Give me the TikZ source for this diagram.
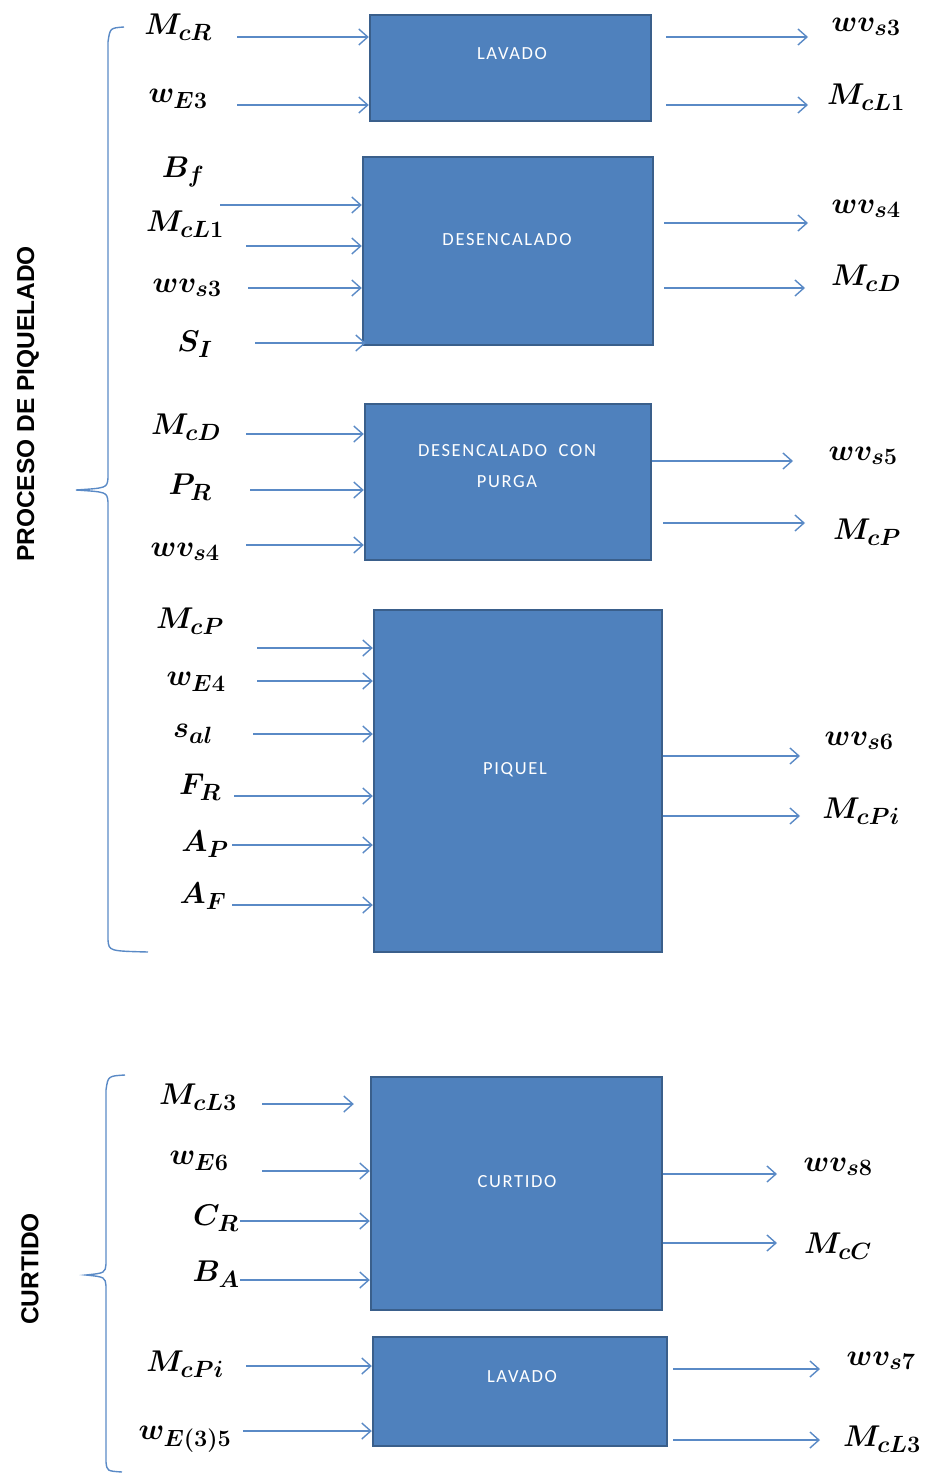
\RequirePackage{fix-cm}
\documentclass[tikz,border=0pt]{standalone}
\usepackage{fontspec}
\usetikzlibrary{arrows.meta}
\newfontfamily\boxfont[LetterSpace=9]{Carlito}
\newfontfamily\sidefont{Liberation Sans}
\DeclareMathSizes{30}{30}{23.5}{18}
\definecolor{boxfill}{HTML}{4F81BD}
\definecolor{boxline}{HTML}{3A5F8B}
\definecolor{flow}{HTML}{5A8AC6}
\tikzset{
  procbox/.style={draw=boxline, fill=boxfill, line width=2.4pt, inner sep=0pt},
  boxtext/.style={text=white, font=\boxfont\fontsize{18.5}{31}\selectfont, align=center, inner sep=0pt},
  var/.style={font=\fontsize{30}{34}\selectfont\boldmath, inner sep=0pt},
  flowarrow/.style={draw=flow, line width=1.4pt, -{Straight Barb[length=9pt, width=16pt, line width=1.4pt]}},
  bracket/.style={draw=flow, line width=1.4pt},
  sidetext/.style={font=\sidefont\bfseries\fontsize{24.5}{28}\selectfont, rotate=90, inner sep=0pt}
}
\begin{document}
\begin{tikzpicture}[x=1pt, y=-1pt]
\useasboundingbox (0,0) rectangle (930,1474);

% ---------- process blocks ----------
\node[procbox, minimum width=281, minimum height=106] (lav1) at (510.5,68) {};
\node[boxtext] (lav1t) at (512,54) {LAVADO};
\node[procbox, minimum width=290, minimum height=188] (des) at (508,251) {};
\node[boxtext] (dest) at (507,240) {DESENCALADO};
\node[procbox, minimum width=286, minimum height=156] (desp) at (508,482) {};
\node[boxtext] (despt) at (507,466) {DESENCALADO\ \ CON\\PURGA};
\node[procbox, minimum width=288, minimum height=342] (piq) at (518,781) {};
\node[boxtext] (piqt) at (515,770) {PIQUEL};
\node[procbox, minimum width=291, minimum height=233] (cur) at (516.5,1193.5) {};
\node[boxtext] (curt) at (517,1182) {CURTIDO};
\node[procbox, minimum width=294, minimum height=109] (lav2) at (520,1391.5) {};
\node[boxtext] (lav2t) at (522,1377) {LAVADO};

% ---------- LAVADO (top) ----------
\node[var] (i11) at (178,27) {$M_{cR}$};
\node[var] (i12) at (178,99) {$w_{E3}$};
\coordinate (s11) at (237,37);
\coordinate (s12) at (237,105);
\draw[flowarrow] (s11) -- (s11 -| lav1.west);
\draw[flowarrow] (s12) -- (s12 -| lav1.west);
\node[var] (o11) at (866,27) {$wv_{s3}$};
\node[var] (o12) at (866,97) {$M_{cL1}$};
\coordinate (e11) at (808,37);
\coordinate (e12) at (808,105);
\draw[flowarrow] ([xshift=14pt]e11 -| lav1.east) -- (e11);
\draw[flowarrow] ([xshift=14pt]e12 -| lav1.east) -- (e12);

% ---------- DESENCALADO ----------
\node[var] (i21) at (183,172) {$B_f$};
\node[var] (i22) at (185,224) {$M_{cL1}$};
\node[var] (i23) at (187,288) {$wv_{s3}$};
\node[var] (i24) at (195,344) {$S_I$};
\coordinate (s21) at (220,205);
\coordinate (s22) at (246,246);
\coordinate (s23) at (248,288);
\coordinate (s24) at (255,343);
\draw[flowarrow] (s21) -- (s21 -| des.west);
\draw[flowarrow] (s22) -- (s22 -| des.west);
\draw[flowarrow] (s23) -- (s23 -| des.west);
\draw[flowarrow] (s24) -- ([xshift=4pt]s24 -| des.west);
\node[var] (o21) at (866,209) {$wv_{s4}$};
\node[var] (o22) at (866,278) {$M_{cD}$};
\coordinate (e21) at (808,223);
\coordinate (e22) at (805,288);
\draw[flowarrow] ([xshift=10pt]e21 -| des.east) -- (e21);
\draw[flowarrow] ([xshift=10pt]e22 -| des.east) -- (e22);

% ---------- DESENCALADO CON PURGA ----------
\node[var] (i31) at (186,427) {$M_{cD}$};
\node[var] (i32) at (190,487) {$P_R$};
\node[var] (i33) at (185,552) {$wv_{s4}$};
\coordinate (s31) at (246,434);
\coordinate (s32) at (250,490);
\coordinate (s33) at (246,545);
\draw[flowarrow] (s31) -- (s31 -| desp.west);
\draw[flowarrow] (s32) -- (s32 -| desp.west);
\draw[flowarrow] (s33) -- (s33 -| desp.west);
\node[var] (o31) at (863,456) {$wv_{s5}$};
\node[var] (o32) at (867,532) {$M_{cP}$};
\coordinate (e31) at (793,461);
\coordinate (e32) at (805,523);
\draw[flowarrow] (e31 -| desp.east) -- (e31);
\draw[flowarrow] ([xshift=11pt]e32 -| desp.east) -- (e32);

% ---------- PIQUEL ----------
\node[var] (i41) at (190,621) {$M_{cP}$};
\node[var] (i42) at (196,682) {$w_{E4}$};
\node[var] (i43) at (193,734) {$s_{al}$};
\node[var] (i44) at (200,787) {$F_R$};
\node[var] (i45) at (205,844) {$A_P$};
\node[var] (i46) at (203,896) {$A_F$};
\coordinate (s41) at (257,648);
\coordinate (s42) at (257,681);
\coordinate (s43) at (253,734);
\coordinate (s44) at (234,796);
\coordinate (s45) at (232,845);
\coordinate (s46) at (232,905);
\draw[flowarrow] (s41) -- (s41 -| piq.west);
\draw[flowarrow] (s42) -- (s42 -| piq.west);
\draw[flowarrow] (s43) -- (s43 -| piq.west);
\draw[flowarrow] (s44) -- (s44 -| piq.west);
\draw[flowarrow] (s45) -- (s45 -| piq.west);
\draw[flowarrow] (s46) -- (s46 -| piq.west);
\node[var] (o41) at (859,741) {$wv_{s6}$};
\node[var] (o42) at (861,811) {$M_{cPi}$};
\coordinate (e41) at (800,756);
\coordinate (e42) at (800,816);
\draw[flowarrow] (e41 -| piq.east) -- (e41);
\draw[flowarrow] (e42 -| piq.east) -- (e42);

% ---------- CURTIDO ----------
\node[var] (i51) at (198,1097) {$M_{cL3}$};
\node[var] (i52) at (199,1161) {$w_{E6}$};
\node[var] (i53) at (216,1218) {$C_R$};
\node[var] (i54) at (216,1274) {$B_A$};
\coordinate (s51) at (262,1104);
\coordinate (s52) at (262,1171);
\coordinate (s53) at (240,1221);
\coordinate (s54) at (240,1280);
\draw[flowarrow] (s51) -- ([xshift=-16pt]s51 -| cur.west);
\draw[flowarrow] (s52) -- (s52 -| cur.west);
\draw[flowarrow] (s53) -- (s53 -| cur.west);
\draw[flowarrow] (s54) -- (s54 -| cur.west);
\node[var] (o51) at (838,1167) {$wv_{s8}$};
\node[var] (o52) at (838,1246) {$M_{cC}$};
\coordinate (e51) at (777,1174);
\coordinate (e52) at (777,1243);
\draw[flowarrow] (e51 -| cur.east) -- (e51);
\draw[flowarrow] (e52 -| cur.east) -- (e52);

% ---------- LAVADO (bottom) ----------
\node[var] (i61) at (185,1364) {$M_{cPi}$};
\node[var] (i62) at (185,1439) {$w_{E(3)5}$};
\coordinate (s61) at (246,1366);
\coordinate (s62) at (243,1431);
\draw[flowarrow] (s61) -- (s61 -| lav2.west);
\draw[flowarrow] (s62) -- (s62 -| lav2.west);
\node[var] (o61) at (881,1361) {$wv_{s7}$};
\node[var] (o62) at (882,1439) {$M_{cL3}$};
\coordinate (e61) at (820,1369);
\coordinate (e62) at (820,1440);
\draw[flowarrow] ([xshift=5pt]e61 -| lav2.east) -- (e61);
\draw[flowarrow] ([xshift=5pt]e62 -| lav2.east) -- (e62);

% ---------- group brackets ----------
\draw[bracket] (124,27) .. controls (110,28) .. (108,42) -- (108,478)
  .. controls (107,488) .. (76,490)
  .. controls (107,492) .. (108,502) -- (108,940)
  .. controls (109,951) .. (148,952);
\node[sidetext] (g1) at (28,404) {PROCESO DE PIQUELADO};

\draw[bracket] (125,1075) .. controls (108,1076) .. (106,1090) -- (106,1264)
  .. controls (105,1273) .. (86,1275)
  .. controls (105,1277) .. (106,1286) -- (106,1462)
  .. controls (107,1471) .. (122,1472);
\node[sidetext] (g2) at (30,1269) {CURTIDO};
\end{tikzpicture}
\end{document}
